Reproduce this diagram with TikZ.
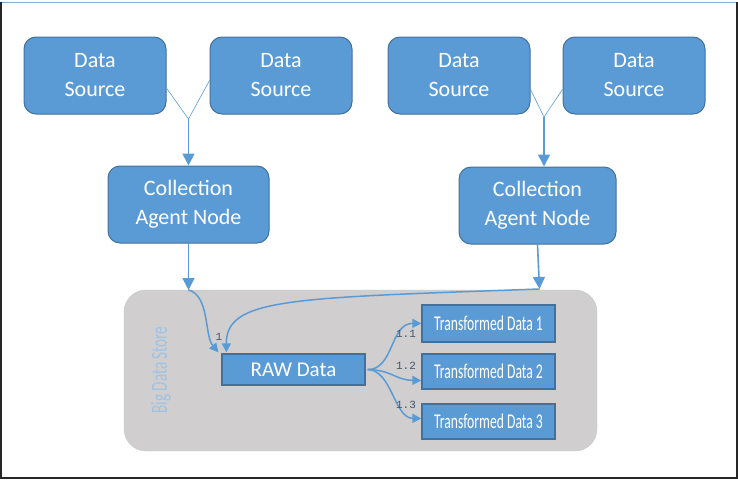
\documentclass[tikz,border=0pt]{standalone}
\usepackage{fontspec}
\setmainfont{Carlito}
\newfontfamily\monofont{Liberation Mono}
\usetikzlibrary{arrows.meta}
\definecolor{boxblue}{HTML}{5B9BD5}
\definecolor{boxline}{HTML}{41719C}
\definecolor{storegray}{HTML}{D0CECE}
\definecolor{storetext}{HTML}{9DC3E6}
\definecolor{numtext}{HTML}{44546A}
\definecolor{framedark}{HTML}{262626}

\begin{document}
\begin{tikzpicture}[x=1pt,y=-1pt,
    srcbox/.style={draw=boxline,line width=1pt,fill=boxblue,rounded corners=12pt,text=white,
      align=center,minimum width=142pt,minimum height=77pt,inner sep=0pt,
      font=\fontsize{22}{29}\selectfont},
    databox/.style={draw=boxline,line width=1.2pt,fill=boxblue,text=white,inner sep=0pt,
      minimum width=133pt,minimum height=36pt},
    flow/.style={draw=boxblue,line width=1.6pt,-{Triangle[length=12pt,width=12pt]}},
    curvearrow/.style={draw=boxblue,line width=1.5pt,-{Triangle[length=9pt,width=9pt]}},
    feed/.style={draw=boxblue,line width=0.6pt},
    num/.style={text=numtext,font=\monofont\fontsize{11}{13}\selectfont}]
            \useasboundingbox (0,0) rectangle (738,479);
            \draw[boxline!60,line width=0.6pt] (1,2)--(737,2);
            \draw[framedark,line width=2.5pt] (1.2,2)--(1.2,477.8)--(736.8,477.8)--(736.8,2);
            % sources and agents
            \node[srcbox] (ds1) at (95,75.5) {Data\\Source};
            \node[srcbox] (ds2) at (281,75.5) {Data\\Source};
            \node[srcbox] (ds3) at (459,75.5) {Data\\Source};
            \node[srcbox] (ds4) at (634,75.5) {Data\\Source};
            \node[srcbox,minimum width=161pt] (can1) at (188.5,204.5) {Collection\\Agent Node};
            \node[srcbox,minimum width=157pt] (can2) at (537.5,205.5) {Collection\\Agent Node};
            \coordinate (j1) at (188.5,119);
            \coordinate (j2) at (544,117);
            \draw[feed] (ds1.-10)--(j1)--(ds2.184);
            \draw[feed] (ds3.-11)--(j2)--(ds4.191);
            \draw[flow] (j1)--(can1.north);
            \draw[flow] (j2)--(j2 |- can2.north);
            % store
            \draw[fill=storegray,draw=storegray!90!boxblue,rounded corners=22pt] (124,290) rectangle (597,451);
            \node[rotate=90,text=storetext,font=\fontsize{23}{26}\selectfont] (bds) at (161,370)
                {\scalebox{0.66}[1]{Big Data Store}};
            \node[databox,minimum width=143pt,minimum height=31pt,font=\fontsize{21}{24}\selectfont]
                (raw) at (293.5,369.5) {RAW Data};
            \node[databox,minimum height=37pt] (td1) at (488.5,323.5) {\fontsize{21}{24}\selectfont\scalebox{0.65}[1]{Transformed Data 1}};
            \node[databox,minimum height=35pt] (td2) at (488.5,371.5) {\fontsize{21}{24}\selectfont\scalebox{0.65}[1]{Transformed Data 2}};
            \node[databox,minimum height=35pt] (td3) at (488.5,421.5) {\fontsize{21}{24}\selectfont\scalebox{0.65}[1]{Transformed Data 3}};
            \coordinate (k1) at (188.5,290);
            \coordinate (k2) at (539.5,289);
            \draw[flow] (can1.south)--(k1);
            \draw[flow] (can2.south)--(k2);
            \draw[curvearrow] (k1) .. controls (210,296) and (204,335) .. ([xshift=-3pt,yshift=1pt]raw.north west);
            \draw[curvearrow] (k2) .. controls (290,298) and (226,298) .. ([xshift=5pt,yshift=1pt]raw.north west);
            \draw[curvearrow] ([xshift=2pt]raw.east) .. controls (394,370) and (390,323) .. (td1.west);
            \draw[curvearrow] ([xshift=2pt]raw.east) .. controls (392,370) and (395,380) .. ([yshift=-9pt]td2.west);
            \draw[curvearrow] ([xshift=2pt]raw.east) .. controls (392,370) and (394,418) .. ([yshift=3pt]td3.west);
            \node[num] (n1) at (219,337) {1};
            \node[num] (n11) at (406,334) {1.1};
            \node[num] (n12) at (406,366) {1.2};
            \node[num] (n13) at (406,405) {1.3};
        \end{tikzpicture}
\end{document}
